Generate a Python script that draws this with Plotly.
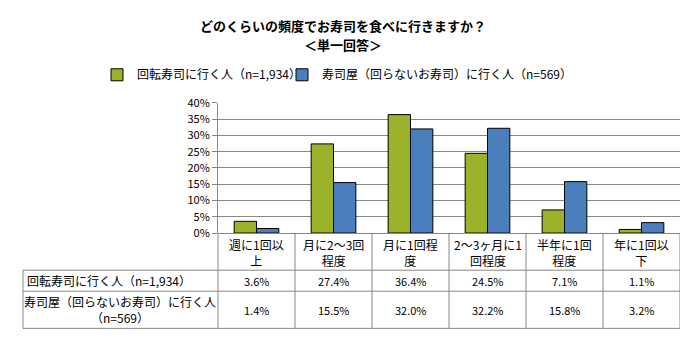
import plotly.graph_objects as go

categories = ["週に1回以<br>上", "月に2～3回<br>程度", "月に1回程<br>度", "2～3ヶ月に1<br>回程度", "半年に1回<br>程度", "年に1回以<br>下"]
series_names = ["回転寿司に行く人（n=1,934）", "寿司屋（回らないお寿司）に行く人（n=569）"]
table_row_labels = ["回転寿司に行く人（n=1,934）", "寿司屋（回らないお寿司）に行く人<br>（n=569）"]
kaiten = [3.6, 27.4, 36.4, 24.5, 7.1, 1.1]
sushiya = [1.4, 15.5, 32.0, 32.2, 15.8, 3.2]
colors = ["#9BB32A", "#4A7EBC"]
title_lines = ["どのくらいの頻度でお寿司を食べに行きますか？", "＜単一回答＞"]

W, H = 695, 343
ML, MR = 23, 15
PW = W - ML - MR
FONT = "Noto Sans CJK JP"
GRID = "#878787"

def py(p):
    return 1 - p / H

def px(p):
    return (p - ML) / PW

x_idx = list(range(len(categories)))
legend_ids = ["legend", "legend2"]
legend_x_px = [97, 282]

fig = go.Figure()
for name, vals, col, lg in zip(series_names, [kaiten, sushiya], colors, legend_ids):
    fig.add_trace(go.Bar(
        x=x_idx, y=[v / 100 for v in vals], name=name, legend=lg, showlegend=True,
        marker=dict(color=col, line=dict(color="#000000", width=1)),
        hoverinfo="skip",
    ))

plot_left_px = 218
legend_common = dict(orientation="h", xanchor="left", y=py(69), yanchor="middle", visible=True,
                     font=dict(family=FONT, size=12), bgcolor="rgba(0,0,0,0)")
fig.update_layout(
    width=W, height=H,
    margin=dict(l=ML, r=MR, t=0, b=0),
    paper_bgcolor="white", plot_bgcolor="white",
    font=dict(family=FONT, size=12, color="#000000"),
    showlegend=True,
    barmode="group", bargap=0.42, bargroupgap=0,
    legend=dict(x=px(legend_x_px[0]), **legend_common),
    legend2=dict(x=px(legend_x_px[1]), **legend_common),
    xaxis=dict(domain=[px(plot_left_px), 1], range=[-0.5, len(categories) - 0.5],
               showticklabels=False, showgrid=False, zeroline=False, showline=False,
               fixedrange=True),
    yaxis=dict(domain=[py(235), py(98.5)], range=[0, 0.4], dtick=0.05, tickformat=".0%",
               showgrid=True, gridcolor=GRID, gridwidth=1,
               showline=True, linecolor=GRID, linewidth=1,
               ticks="outside", ticklen=5, tickcolor=GRID,
               zeroline=True, zerolinecolor=GRID, zerolinewidth=1,
               tickfont=dict(family=FONT, size=11), fixedrange=True),
)

# Data table lines
line = dict(color=GRID, width=1)
y_top, y_r1, y_r2, y_bot = py(235), py(274), py(296), py(335)
shapes = []
for yy in [y_r1, y_r2, y_bot]:
    shapes.append(dict(type="line", xref="paper", yref="paper", x0=0, x1=1, y0=yy, y1=yy, line=line))
shapes.append(dict(type="line", xref="paper", yref="paper", x0=0, x1=0, y0=y_r1, y1=y_bot, line=line))
shapes.append(dict(type="line", xref="paper", yref="paper", x0=px(plot_left_px), x1=px(plot_left_px),
                   y0=y_top, y1=y_bot, line=line))
for i in range(1, len(categories) + 1):
    shapes.append(dict(type="line", xref="x", yref="paper", x0=i - 0.5, x1=i - 0.5, y0=y_top, y1=y_bot, line=line))
fig.update_layout(shapes=shapes)

ann = []
for t, yy in zip(title_lines, [17, 37]):
    ann.append(dict(x=px(343), xref="paper", xanchor="center", y=py(yy), yref="paper", yanchor="middle",
                    text=f"<b>{t}</b>", showarrow=False,
                    font=dict(family=FONT, size=13, color="#000000")))
for i, c in enumerate(categories):
    ann.append(dict(x=i, xref="x", xanchor="center", y=py(255), yref="paper", yanchor="middle",
                    text=c, showarrow=False, font=dict(family=FONT, size=12), align="center"))
    ann.append(dict(x=i, xref="x", xanchor="center", y=py(285), yref="paper", yanchor="middle",
                    text=f"{kaiten[i]:.1f}%", showarrow=False, font=dict(family=FONT, size=11)))
    ann.append(dict(x=i, xref="x", xanchor="center", y=py(315.5), yref="paper", yanchor="middle",
                    text=f"{sushiya[i]:.1f}%", showarrow=False, font=dict(family=FONT, size=11)))
ann.append(dict(x=px(25), xref="paper", xanchor="left", y=py(285), yref="paper", yanchor="middle",
                text=table_row_labels[0], showarrow=False, font=dict(family=FONT, size=12)))
ann.append(dict(x=px(120), xref="paper", xanchor="center", y=py(315.5), yref="paper", yanchor="middle",
                text=table_row_labels[1], showarrow=False, align="center", font=dict(family=FONT, size=12)))
fig.update_layout(annotations=ann)

fig.write_html("out.html")
